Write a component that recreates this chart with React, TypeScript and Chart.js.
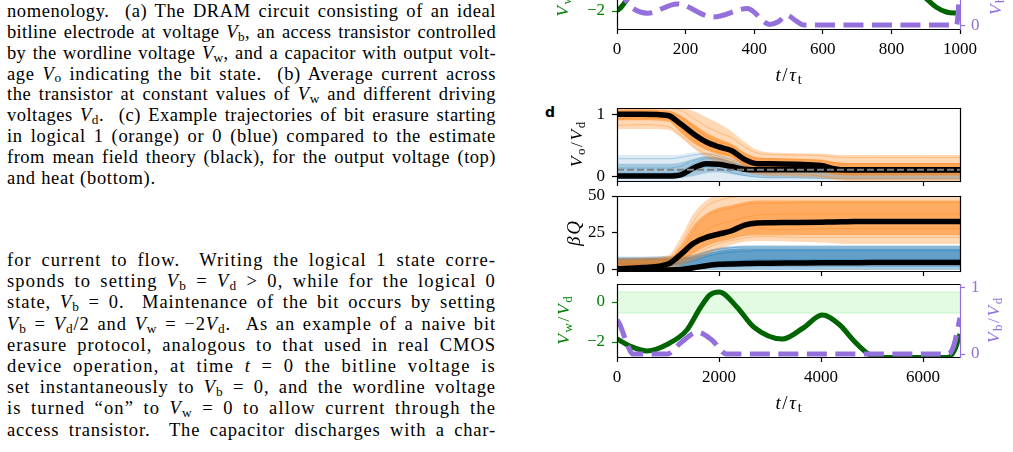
import React, { useEffect, useLayoutEffect, useRef } from "react";
import { Chart, registerables } from "chart.js";

Chart.register(...registerables);

const SERIF = "'Liberation Serif', 'DejaVu Serif', serif";
const GREEN_LINE = "#006400";
const GREEN_TEXT = "#008000";
const PURPLE = "#9370DB";
const orange = (a: number) => `rgba(255,127,14,${a})`;
const blue = (a: number) => `rgba(31,119,180,${a})`;
const BAND_FILL = "rgba(144,238,144,0.25)";
const BAND_EDGE = "rgba(144,238,144,0.45)";
const NONE = "rgba(0,0,0,0)";

// ---------- panel c, lower row (only its bottom strip is on the page) ----------
const cTicksX = [0, 200, 400, 600, 800, 1000];
const cTimeW = [0, 15, 30, 60, 120, 300, 500, 700, 850, 900, 930, 960, 985, 1000];
const cVw = [-2.0, -1.75, -1.4, -0.7, 0.3, 0.6, 0.2, 0.5, -0.6, -1.35, -1.8, -2.05, -2.1, -2.05];
const cTimeB = [0, 20, 40, 90, 175, 280, 380, 445, 470, 495, 520, 545, 990, 1000];
const cVb = [0.6, 0.42, 0.28, 0.18, 0.32, 0.12, 0.25, 0.01, 0.05, 0.15, 0.07, 0, 0, 0.6];
const cBandTime = [0, 1000];
const cBandHi = [0.5, 0.5];
const cBandLo = [-0.55, -0.55];

// ---------- panel d ----------
const dTicksX = [0, 2000, 4000, 6000];
const dTime = [0, 500, 1000, 1250, 1500, 1750, 2000, 2250, 2500, 2750, 3000, 3500, 4000, 4250, 4500, 5000, 5500, 6000, 6725];

// output voltage Vo/Vd
const voMeanFrom1 = [1.0, 1.0, 0.98, 0.84, 0.68, 0.55, 0.47, 0.41, 0.27, 0.2, 0.2, 0.19, 0.17, 0.12, 0.1, 0.1, 0.1, 0.1, 0.1];
const voMeanFrom0 = [0, 0, 0, 0.02, 0.13, 0.2, 0.19, 0.15, 0.11, 0.1, 0.1, 0.1, 0.1, 0.1, 0.1, 0.1, 0.1, 0.1, 0.1];
const voRefTime = [0, 6725];
const voRef = [0.1, 0.1];
const voOrangeOuterHi = [1.1, 1.1, 1.1, 1.1, 1.05, 0.95, 0.85, 0.72, 0.55, 0.42, 0.38, 0.37, 0.36, 0.35, 0.34, 0.34, 0.34, 0.34, 0.34];
const voOrangeOuterLo = [0.76, 0.76, 0.75, 0.62, 0.45, 0.3, 0.2, 0.13, 0.06, 0.02, 0.0, -0.01, -0.03, -0.06, -0.08, -0.08, -0.08, -0.08, -0.08];
const voOrangeInnerHi = [1.07, 1.07, 1.06, 0.98, 0.84, 0.7, 0.6, 0.52, 0.38, 0.3, 0.29, 0.28, 0.26, 0.23, 0.21, 0.21, 0.21, 0.21, 0.21];
const voOrangeInnerLo = [0.9, 0.9, 0.88, 0.7, 0.53, 0.42, 0.35, 0.3, 0.16, 0.11, 0.1, 0.1, 0.07, 0.03, 0.01, 0.01, 0.01, 0.01, 0.01];
const voBlueOuterHi = [0.34, 0.34, 0.34, 0.35, 0.38, 0.38, 0.35, 0.3, 0.25, 0.21, 0.19, 0.18, 0.17, 0.16, 0.15, 0.15, 0.15, 0.15, 0.15];
const voBlueOuterLo = [-0.08, -0.08, -0.08, -0.08, -0.08, -0.08, -0.08, -0.08, -0.08, -0.08, -0.08, -0.08, -0.08, -0.08, -0.08, -0.08, -0.08, -0.08, -0.08];
const voBlueInnerHi = [0.2, 0.2, 0.2, 0.22, 0.28, 0.32, 0.3, 0.24, 0.18, 0.15, 0.14, 0.13, 0.12, 0.11, 0.1, 0.1, 0.1, 0.1, 0.1];
const voBlueInnerLo = [-0.04, -0.04, -0.04, -0.03, 0.0, 0.05, 0.06, 0.03, 0.0, -0.02, -0.03, -0.03, -0.04, -0.04, -0.04, -0.04, -0.04, -0.04, -0.04];
const voOrangeRuns = [
  [1.03, 1.03, 1.02, 0.95, 0.8, 0.64, 0.55, 0.49, 0.36, 0.29, 0.28, 0.27, 0.26, 0.22, 0.2, 0.2, 0.2, 0.2, 0.2],
  [0.93, 0.94, 0.92, 0.78, 0.58, 0.45, 0.38, 0.33, 0.2, 0.13, 0.12, 0.11, 0.08, 0.04, 0.03, 0.03, 0.03, 0.03, 0.03],
  [1.08, 1.08, 1.09, 1.06, 0.93, 0.8, 0.7, 0.62, 0.47, 0.37, 0.35, 0.34, 0.33, 0.31, 0.3, 0.3, 0.3, 0.3, 0.3],
  [0.82, 0.83, 0.8, 0.66, 0.48, 0.36, 0.28, 0.22, 0.09, 0.05, 0.04, 0.03, 0.0, -0.03, -0.05, -0.05, -0.05, -0.05, -0.05],
  [0.99, 0.98, 0.97, 0.85, 0.66, 0.52, 0.45, 0.4, 0.28, 0.22, 0.21, 0.2, 0.15, 0.1, 0.09, 0.09, 0.09, 0.09, 0.09],
];
const voBlueRuns = [
  [0.05, 0.05, 0.05, 0.08, 0.2, 0.28, 0.27, 0.2, 0.14, 0.12, 0.12, 0.12, 0.11, 0.11, 0.11, 0.11, 0.11, 0.11, 0.11],
  [0.28, 0.28, 0.28, 0.3, 0.34, 0.36, 0.32, 0.26, 0.2, 0.17, 0.16, 0.16, 0.14, 0.13, 0.13, 0.13, 0.13, 0.13, 0.13],
  [-0.02, -0.02, -0.02, 0.0, 0.08, 0.15, 0.12, 0.06, 0.01, -0.02, -0.03, -0.03, -0.04, -0.04, -0.04, -0.04, -0.04, -0.04, -0.04],
  [0.13, 0.13, 0.13, 0.16, 0.25, 0.3, 0.28, 0.22, 0.16, 0.13, 0.12, 0.11, 0.09, 0.07, 0.06, 0.06, 0.06, 0.06, 0.06],
];

// heat beta*Q
const qMeanFrom1 = [0.8, 1.6, 4.0, 10.5, 18.0, 22.0, 24.3, 26.5, 30.3, 31.8, 32.0, 32.1, 32.3, 32.5, 32.6, 32.8, 32.8, 32.8, 32.8];
const qMeanFrom0 = [0, 0, 0, 0.3, 1.5, 2.9, 3.8, 4.1, 4.3, 4.5, 4.6, 4.7, 4.8, 4.9, 4.9, 5.0, 5.0, 5.0, 5.0];
const qOrangeOuterHi = [8, 8.5, 10, 22, 38, 47, 51, 52, 52, 52, 52, 52, 52, 52, 52, 52, 52, 52, 52];
const qOrangeOuterLo = [0, 0.5, 1.5, 3, 6, 10, 14, 17, 19, 19.5, 19.5, 19, 18.5, 18, 17.5, 17.5, 17.5, 17.5, 17.5];
const qOrangeInnerHi = [6.5, 7, 8, 16, 30, 38, 42, 44, 46, 47, 47, 47, 47, 47, 47, 47, 47, 47, 47];
const qOrangeInnerLo = [1.5, 2, 3, 6, 11, 16, 19, 21, 23, 23.5, 23.5, 23.5, 23.5, 23.5, 23.5, 23.5, 23.5, 23.5, 23.5];
const qBlueOuterHi = [9, 9, 9.2, 9.5, 10.5, 13, 15, 16, 16.5, 16.5, 16.5, 16.5, 16.5, 16.5, 16.5, 16.5, 16.5, 16.5, 16.5];
const qBlueOuterLo = [0, 0, 0, 0, 0, 0, 0, 0, 0, 0, 0, 0, 0, 0, 0, 0, 0, 0, 0];
const qBlueInnerHi = [8, 8, 8.2, 8.5, 9, 11, 13, 14, 14.5, 14.5, 14.5, 14.5, 14.5, 14.5, 14.5, 14.5, 14.5, 14.5, 14.5];
const qBlueInnerLo = [2.5, 2.5, 2.5, 2.5, 2.7, 3, 3.5, 3.8, 4, 4, 4, 4, 4, 4, 4, 4, 4, 4, 4];
const qOrangeRuns = [
  [2, 2.5, 3.5, 12, 26, 36, 40, 42, 44, 45, 45, 45.5, 45.5, 45.5, 45.5, 45.5, 45.5, 45.5, 45.5],
  [5, 5.5, 6.5, 10, 19, 27, 31, 33, 35.5, 37, 37.5, 38, 38, 38, 38, 38, 38, 38, 38],
  [1, 1.3, 2, 4.5, 9.5, 14.5, 18, 20, 21.5, 22.5, 22.5, 22, 22, 22, 22, 22, 22, 22, 22],
  [7, 7.5, 8.5, 17, 33, 43, 47, 49, 50, 50.5, 51, 51, 51, 51, 51, 51, 51, 51, 51],
  [3.5, 4, 5, 8.5, 15, 22, 26, 28, 30, 28.5, 27.5, 27.5, 28, 28, 28, 28, 28, 28, 28],
];
const qBlueRuns = [
  [4, 4, 4.2, 4.5, 6, 9, 11, 12, 12.5, 13, 13, 13, 13, 13, 13, 13, 13, 13, 13],
  [1, 1, 1.1, 1.2, 2, 3.5, 5, 6, 6.5, 7, 7, 7, 7, 7, 7, 7, 7, 7, 7],
  [7, 7, 7.2, 7.5, 9, 12, 14, 15, 15.5, 15.5, 15.5, 15.5, 15.5, 15.5, 15.5, 15.5, 15.5, 15.5, 15.5],
  [0.4, 0.4, 0.4, 0.5, 0.9, 1.5, 2, 2.2, 2.4, 2.5, 2.5, 2.5, 2.5, 2.5, 2.5, 2.5, 2.5, 2.5, 2.5],
];

// protocol Vw/Vd and Vb/Vd
const dTimeW = [0, 250, 590, 1000, 1370, 1630, 1820, 2000, 2350, 2680, 3240, 3650, 4020, 4370, 4630, 4960, 5150, 6480, 6620, 6725];
const dVw = [-1.85, -2.2, -2.45, -2.1, -1.4, -0.3, 0.35, 0.5, -0.25, -1.25, -1.85, -1.3, -0.65, -1.15, -1.9, -2.65, -2.78, -2.78, -2.4, -1.6];
const dTimeB = [0, 60, 200, 310, 980, 1250, 1570, 1850, 2150, 6490, 6600, 6725];
const dVb = [0.52, 0.44, 0.15, 0, 0, 0.17, 0.33, 0.22, 0, 0, 0.12, 0.55];
const dBandTime = [0, 6725];
const dBandHi = [0.5, 0.5];
const dBandLo = [-0.55, -0.55];

// ---------- helpers ----------
type Seg = { t: string; it?: boolean; sub?: boolean };
const fmt = (v: any) => String(v).replace("-", "\u2212");

function series(xs: number[], ys: number[], color: string, width: number, extra: any = {}) {
  return {
    type: "line",
    data: xs.map((x, i) => ({ x, y: ys[i] })),
    borderColor: color,
    borderWidth: width,
    pointRadius: 0,
    fill: false,
    cubicInterpolationMode: "monotone",
    clip: 0,
    ...extra,
  };
}

function band(xs: number[], hi: number[], lo: number[], fillColor: string, edge = NONE, edgeW = 0.01, extra: any = {}) {
  return [
    { ...series(xs, hi, edge, edgeW, extra), fill: "+1", backgroundColor: fillColor },
    series(xs, lo, edge, edgeW, extra),
  ];
}

function zeroPad(a: any) {
  a.paddingTop = 0;
  a.paddingBottom = 0;
  a.paddingLeft = 0;
  a.paddingRight = 0;
}

function yScale(min: number, max: number, ticks: number[], color: string, position: string, width: number) {
  return {
    type: "linear",
    position,
    min,
    max,
    afterBuildTicks: (a: any) => {
      a.ticks = ticks.map((v) => ({ value: v }));
    },
    afterFit: (a: any) => {
      a.width = width;
      zeroPad(a);
    },
    grid: { display: true, drawOnChartArea: false, drawTicks: true, tickLength: 5, tickColor: color, tickWidth: 1.2 },
    border: { display: false },
    ticks: {
      color,
      autoSkip: false,
      padding: position === "left" ? 7 : 6,
      font: { family: SERIF, size: 17 },
      callback: (v: any) => fmt(v),
    },
  };
}

function xScale(min: number, max: number, ticks: number[], labels: boolean, height: number) {
  return {
    type: "linear",
    position: "bottom",
    min,
    max,
    afterBuildTicks: (a: any) => {
      a.ticks = ticks.map((v) => ({ value: v }));
    },
    afterFit: (a: any) => {
      a.height = height;
      zeroPad(a);
    },
    grid: { display: true, drawOnChartArea: false, drawTicks: true, tickLength: 5, tickColor: "#000", tickWidth: 1.2 },
    border: { display: false },
    ticks: {
      display: labels,
      color: "#000",
      padding: 5,
      maxRotation: 0,
      autoSkip: false,
      font: { family: SERIF, size: 17 },
      callback: (v: any) => fmt(v),
    },
  };
}

const SEG_GAP = 1.6;

function drawRich(ctx: CanvasRenderingContext2D, segs: Seg[], cx: number, cy: number, rot: number, color: string, size: number) {
  ctx.save();
  ctx.translate(cx, cy);
  ctx.rotate(rot);
  const fontOf = (s: Seg) => `${s.it ? "italic " : ""}${s.sub ? Math.round(size * 0.72) : size}px ${SERIF}`;
  let total = 0;
  const widths = segs.map((s) => {
    ctx.font = fontOf(s);
    const w = ctx.measureText(s.t).width + SEG_GAP;
    total += w;
    return w;
  });
  total -= SEG_GAP;
  let x = -total / 2;
  ctx.fillStyle = color;
  ctx.textBaseline = "alphabetic";
  ctx.textAlign = "left";
  segs.forEach((s, i) => {
    ctx.font = fontOf(s);
    ctx.fillText(s.t, x, size * 0.35 + (s.sub ? size * 0.18 : 0));
    x += widths[i];
  });
  ctx.restore();
}

type Lab = { segs: Seg[]; color: string; side: "left" | "right" | "bottom"; off: number; size?: number };
function richPlugin(items: Lab[]) {
  return {
    id: "richLabels",
    afterDraw(chart: any) {
      const a = chart.chartArea;
      const ctx = chart.ctx;
      for (const it of items) {
        const sz = it.size || 17.5;
        if (it.side === "bottom") drawRich(ctx, it.segs, (a.left + a.right) / 2, a.bottom + it.off, 0, it.color, sz);
        else if (it.side === "left") drawRich(ctx, it.segs, a.left - it.off, (a.top + a.bottom) / 2, -Math.PI / 2, it.color, sz);
        else drawRich(ctx, it.segs, a.right + it.off, (a.top + a.bottom) / 2, -Math.PI / 2, it.color, sz);
      }
    },
  };
}

function framePlugin(rightColor: string) {
  return {
    id: "frame",
    afterDatasetsDraw(chart: any) {
      const { left, right, top, bottom } = chart.chartArea;
      const ctx = chart.ctx;
      ctx.save();
      ctx.lineWidth = 1.2;
      ctx.lineCap = "square";
      ctx.strokeStyle = "#000";
      ctx.beginPath();
      ctx.moveTo(right + 0.5, top + 0.5);
      ctx.lineTo(left + 0.5, top + 0.5);
      ctx.lineTo(left + 0.5, bottom + 0.5);
      ctx.lineTo(right + 0.5, bottom + 0.5);
      ctx.stroke();
      ctx.strokeStyle = rightColor;
      ctx.beginPath();
      ctx.moveTo(right + 0.5, top + 0.5);
      ctx.lineTo(right + 0.5, bottom + 0.5);
      ctx.stroke();
      ctx.restore();
    },
  };
}

function baseOptions(padTop: number, padRight: number, scales: any) {
  return {
    responsive: false,
    maintainAspectRatio: false,
    animation: false,
    events: [],
    layout: { padding: { top: padTop, right: padRight, left: 0, bottom: 0 }, autoPadding: false },
    plugins: { legend: { display: false }, tooltip: { enabled: false } },
    scales,
  };
}

const T_LABEL: Seg[] = [{ t: "t", it: true }, { t: "/" }, { t: "\u03c4", it: true }, { t: "t", sub: true }];
const VW_LABEL: Seg[] = [{ t: "V", it: true }, { t: "w", sub: true }, { t: "/" }, { t: "V", it: true }, { t: "d", sub: true }];
const VB_LABEL: Seg[] = [{ t: "V", it: true }, { t: "b", sub: true }, { t: "/" }, { t: "V", it: true }, { t: "d", sub: true }];
const VO_LABEL: Seg[] = [{ t: "V", it: true }, { t: "o", sub: true }, { t: "/" }, { t: "V", it: true }, { t: "d", sub: true }];
const BQ_LABEL: Seg[] = [{ t: "\u03b2", it: true }, { t: "Q", it: true }];

// ---------- chart builders ----------
function buildTopC() {
  return {
    type: "line",
    data: {
      datasets: [
        series(cTimeB, cVb, PURPLE, 5, { yAxisID: "y2", borderDash: [20, 8.5] }),
        series(cTimeW, cVw, GREEN_LINE, 5, { yAxisID: "y" }),
        ...band(cBandTime, cBandHi, cBandLo, BAND_FILL, BAND_EDGE, 1, { yAxisID: "y" }),
      ],
    },
    options: baseOptions(16, 0, {
      x: xScale(0, 1000, cTicksX, true, 61),
      y: yScale(-2.9, 0.75, [-2, 0], GREEN_TEXT, "left", 97),
      y2: yScale(-0.06, 1.046, [0, 1], PURPLE, "right", 53),
    }),
    plugins: [
      framePlugin(PURPLE),
      richPlugin([
        { segs: VW_LABEL, color: GREEN_TEXT, side: "left", off: 55 },
        { segs: VB_LABEL, color: PURPLE, side: "right", off: 35 },
        { segs: T_LABEL, color: "#000", side: "bottom", off: 45, size: 19 },
      ]),
    ],
  };
}

function buildVo() {
  return {
    type: "line",
    data: {
      datasets: [
        series(voRefTime, voRef, "#808080", 2, { borderDash: [7, 3] }),
        series(dTime, voMeanFrom1, "#000", 5.5),
        series(dTime, voMeanFrom0, "#000", 5.5),
        ...voOrangeRuns.map((r) => series(dTime, r, orange(0.35), 1)),
        ...band(dTime, voOrangeInnerHi, voOrangeInnerLo, orange(0.55)),
        ...band(dTime, voOrangeOuterHi, voOrangeOuterLo, orange(0.3)),
        ...voBlueRuns.map((r) => series(dTime, r, blue(0.3), 1)),
        ...band(dTime, voBlueInnerHi, voBlueInnerLo, blue(0.3)),
        ...band(dTime, voBlueOuterHi, voBlueOuterLo, blue(0.15)),
      ],
    },
    options: baseOptions(12, 53, {
      x: xScale(0, 6725, dTicksX, false, 7),
      y: yScale(-0.08, 1.1, [0, 1], "#000", "left", 97),
    }),
    plugins: [framePlugin("#000"), richPlugin([{ segs: VO_LABEL, color: "#000", side: "left", off: 41 }])],
  };
}

function buildQ() {
  return {
    type: "line",
    data: {
      datasets: [
        series(dTime, qMeanFrom1, "#000", 5.5),
        series(dTime, qMeanFrom0, "#000", 5.5),
        ...qOrangeRuns.map((r) => series(dTime, r, orange(0.35), 1)),
        ...band(dTime, qOrangeInnerHi, qOrangeInnerLo, orange(0.5)),
        ...band(dTime, qOrangeOuterHi, qOrangeOuterLo, orange(0.3)),
        ...qBlueRuns.map((r) => series(dTime, r, blue(0.4), 1)),
        ...band(dTime, qBlueInnerHi, qBlueInnerLo, blue(0.5)),
        ...band(dTime, qBlueOuterHi, qBlueOuterLo, blue(0.4)),
      ],
    },
    options: baseOptions(12, 53, {
      x: xScale(0, 6725, dTicksX, false, 9),
      y: yScale(-0.7, 50, [0, 25, 50], "#000", "left", 97),
    }),
    plugins: [framePlugin("#000"), richPlugin([{ segs: BQ_LABEL, color: "#000", side: "left", off: 44, size: 19 }])],
  };
}

function buildProtocolD() {
  return {
    type: "line",
    data: {
      datasets: [
        series(dTimeB, dVb, PURPLE, 5, { yAxisID: "y2", borderDash: [20, 8.5] }),
        series(dTimeW, dVw, GREEN_LINE, 5, { yAxisID: "y" }),
        ...band(dBandTime, dBandHi, dBandLo, BAND_FILL, BAND_EDGE, 1, { yAxisID: "y" }),
      ],
    },
    options: baseOptions(12, 0, {
      x: xScale(0, 6725, dTicksX, true, 65),
      y: yScale(-2.75, 0.9, [-2, 0], GREEN_TEXT, "left", 97),
      y2: yScale(-0.045, 1.06, [0, 1], PURPLE, "right", 53),
    }),
    plugins: [
      framePlugin(PURPLE),
      richPlugin([
        { segs: VW_LABEL, color: GREEN_TEXT, side: "left", off: 54 },
        { segs: VB_LABEL, color: PURPLE, side: "right", off: 33 },
        { segs: T_LABEL, color: "#000", side: "bottom", off: 45, size: 19 },
      ]),
    ],
  };
}

function ChartBox({ left, top, width, height, build }: any) {
  const ref = useRef<HTMLCanvasElement>(null);
  useEffect(() => {
    const chart = new Chart(ref.current as any, build());
    return () => chart.destroy();
  }, [build]);
  return (
    <canvas
      ref={ref}
      width={width}
      height={height}
      style={{ position: "absolute", left, top, width, height, display: "block" }}
    />
  );
}

// ---------- body text ----------
const Sub = ({ c }: { c: string }) => (
  <span style={{ fontSize: "0.72em", position: "relative", top: "0.22em" }}>{c}</span>
);
const V = ({ s }: { s: string }) => (
  <>
    <i>V</i>
    <Sub c={s} />
  </>
);

const para1 = [
  <>nomenology.&nbsp; (a) The DRAM circuit consisting of an ideal</>,
  <>bitline electrode at voltage <V s="b" />, an access transistor controlled</>,
  <>by the wordline voltage <V s="w" />, and a capacitor with output volt-</>,
  <>age <V s="o" /> indicating the bit state.&nbsp; (b) Average current across</>,
  <>the transistor at constant values of <V s="w" /> and different driving</>,
  <>voltages <V s="d" />.&nbsp; (c) Example trajectories of bit erasure starting</>,
  <>in logical 1 (orange) or 0 (blue) compared to the estimate</>,
  <>from mean field theory (black), for the output voltage (top)</>,
  <>and heat (bottom).</>,
];
const para2 = [
  <>for current to flow.&nbsp; Writing the logical 1 state corre-</>,
  <>sponds to setting <V s="b" /> = <V s="d" /> &gt; 0, while for the logical 0</>,
  <>state, <V s="b" /> = 0.&nbsp; Maintenance of the bit occurs by setting</>,
  <><V s="b" /> = <V s="d" />/2 and <V s="w" /> = {"\u2212"}2<V s="d" />.&nbsp; As an example of a naive bit</>,
  <>erasure protocol, analogous to that used in real CMOS</>,
  <>device operation, at time <i>t</i> = 0 the bitline voltage is</>,
  <>set instantaneously to <V s="b" /> = 0, and the wordline voltage</>,
  <>is turned {"\u201c"}on{"\u201d"} to <V s="w" /> = 0 to allow current through the</>,
  <>access transistor.&nbsp; The capacitor discharges with a char-</>,
];

const LINE_WIDTH = 489;

function TextLine({ baseline, children, last }: any) {
  const spanRef = useRef<HTMLSpanElement>(null);
  useLayoutEffect(() => {
    const el = spanRef.current;
    if (!el) return;
    el.style.letterSpacing = "0px";
    el.style.wordSpacing = "0px";
    if (last) {
      el.style.letterSpacing = "0.7px";
      return;
    }
    const text = el.textContent || "";
    const gaps = (text.match(/[ \u00a0]/g) || []).length;
    const natural = el.getBoundingClientRect().width;
    const extra = LINE_WIDTH - natural;
    const ls = Math.max(0, Math.min(1.2, (extra * 0.6) / Math.max(1, text.length)));
    el.style.letterSpacing = `${ls}px`;
    const w2 = el.getBoundingClientRect().width;
    if (gaps > 0) el.style.wordSpacing = `${(LINE_WIDTH - w2) / gaps}px`;
  }, [last]);
  return (
    <div
      style={{
        position: "absolute",
        left: 7,
        width: LINE_WIDTH + 30,
        top: baseline - 16,
        height: 21,
        lineHeight: "21px",
        fontFamily: SERIF,
        fontSize: 18.5,
        whiteSpace: "nowrap",
        color: "#000",
      }}
    >
      <span ref={spanRef}>{children}</span>
    </div>
  );
}

export default function App() {
  return (
    <div
      style={{
        position: "absolute",
        left: 0,
        top: 0,
        width: 1013,
        height: 452,
        overflow: "hidden",
        background: "#fff",
      }}
    >
      {para1.map((l, i) => (
        <TextLine key={"a" + i} baseline={17 + i * 20.85} last={i === para1.length - 1}>
          {l}
        </TextLine>
      ))}
      {para2.map((l, i) => (
        <TextLine key={"b" + i} baseline={266 + i * 21.2}>
          {l}
        </TextLine>
      ))}
      <div
        style={{
          position: "absolute",
          left: 545,
          top: 105,
          fontFamily: "'DejaVu Sans', sans-serif",
          fontWeight: "bold",
          fontSize: 14,
          lineHeight: "14px",
        }}
      >
        d
      </div>
      <ChartBox left={520} top={-60} width={493} height={150} build={buildTopC} />
      <ChartBox left={520} top={96} width={493} height={92} build={buildVo} />
      <ChartBox left={520} top={184} width={493} height={96} build={buildQ} />
      <ChartBox left={520} top={272} width={493} height={150} build={buildProtocolD} />
    </div>
  );
}
